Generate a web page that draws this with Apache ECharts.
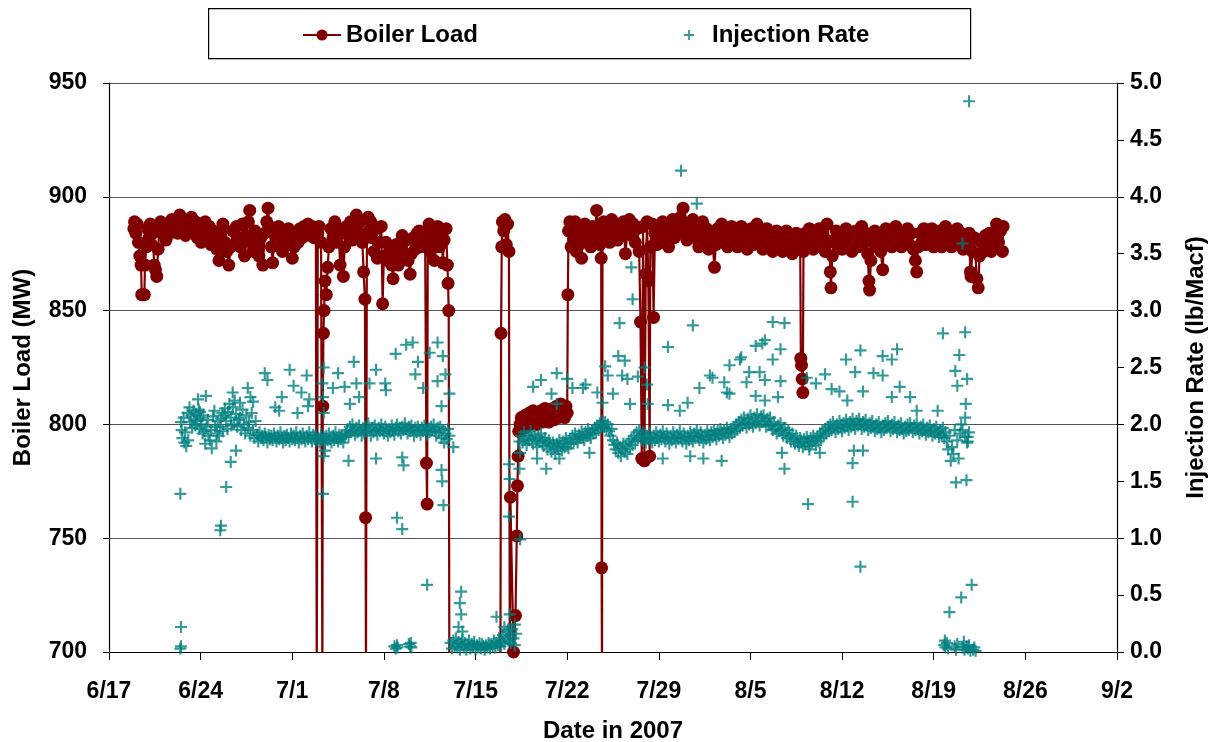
<!DOCTYPE html>
<html>
<head>
<meta charset="utf-8">
<script src="https://cdn.jsdelivr.net/npm/echarts@6/dist/echarts.min.js"></script>
<style>
html,body{margin:0;padding:0;background:#fff;}
#chart{width:1212px;height:742px;}
</style>
</head>
<body>
<div id="chart"></div>
<script>
// x values are days after 6/17/2007
const tickLabels = ['6/17','6/24','7/1','7/8','7/15','7/22','7/29','8/5','8/12','8/19','8/26','9/2'];
const seriesNames = ['Boiler Load', 'Injection Rate'];

// Boiler load (MW); values below 700 are unit trips that run off the bottom of the chart
const boilerLoad = [
[1.9,886],[1.95,889],[2.05,884],[2.15,888],[2.25,880],[2.35,874],[2.45,870],[2.5,857],[2.6,857],[2.7,857],[2.75,870],[2.85,878],[2.95,886],[3.05,882],[3.15,888],[3.25,879],[3.35,884],[3.45,870],[3.55,868],[3.65,865],[3.75,877],[3.85,886],[3.95,889],[4.1,884],[4.2,887],[4.35,881],[4.5,888],[4.65,884],[4.8,890],[4.95,886],[5.1,889],[5.25,884],[5.4,892],[5.55,887],[5.7,890],[5.85,883],[6.0,888],[6.15,885],[6.3,891],[6.45,884],[6.6,889],[6.75,882],[6.9,887],[7.05,880],[7.2,886],[7.35,889],[7.5,883],[7.65,887],[7.8,879],[7.95,885],[8.1,881],[8.25,877],[8.4,872],[8.55,884],[8.7,888],[8.85,880],[9.0,876],[9.15,870],[9.3,878],[9.45,885],[9.6,879],[9.75,887],[9.9,882],[10.05,878],[10.2,888],[10.35,874],[10.5,883],[10.65,889],[10.75,894],[10.85,880],[11.0,876],[11.15,885],[11.3,879],[11.45,874],[11.6,882],[11.75,870],[11.9,884],[12.05,889],[12.15,895],[12.25,887],[12.4,878],[12.5,871],[12.65,884],[12.8,880],[12.95,887],[13.1,882],[13.25,876],[13.4,884],[13.55,879],[13.7,886],[13.85,881],[14.0,873],[14.15,878],[14.3,884],[14.45,880],[14.6,886],[14.75,882],[14.9,887],[15.05,883],[15.2,888],[15.35,884],[15.5,887],[15.65,882],[15.8,886],
[15.87,690],[15.95,884],[16.05,887],[16.2,880],[16.3,690],[16.33,808],[16.38,840],[16.43,850],[16.5,863],[16.6,857],[16.7,869],[16.8,878],[16.95,886],
[17.1,882],[17.25,889],[17.4,880],[17.55,886],[17.65,870],[17.75,884],[17.9,865],[18.0,878],[18.15,887],[18.3,883],[18.45,889],[18.6,881],[18.75,886],[18.9,892],[19.05,884],[19.2,889],[19.35,880],[19.45,867],[19.55,855],[19.6,759],[19.63,690],[19.7,884],[19.8,891],[19.9,885],[20.0,889],
[20.1,882],[20.25,876],[20.4,886],[20.5,873],[20.65,880],[20.8,887],[20.9,853],[21.0,874],[21.15,880],[21.3,872],[21.45,878],[21.6,870],[21.7,864],[21.8,873],[21.95,879],[22.1,870],[22.25,876],[22.4,883],[22.55,874],[22.7,881],[22.85,872],[23.0,866],[23.1,875],[23.25,882],[23.4,877],[23.55,884],[23.7,885],[23.85,878],[24.0,884],[24.15,880],[24.25,783],[24.3,765],
[24.35,878],[24.45,888],[24.55,876],[24.7,884],[24.85,872],[25.0,880],[25.1,887],[25.25,878],[25.4,884],[25.5,871],[25.6,881],[25.75,886],[25.85,870],[25.9,862],[25.95,850],[26.0,690],
[29.9,690],[29.95,840],[30.0,878],[30.05,889],[30.15,885],[30.25,890],[30.35,879],[30.45,888],[30.55,876],[30.62,690],[30.66,768],[30.9,700],[31.05,716],[31.15,751],[31.2,773],[31.25,786],
[31.3,797],[31.4,800],[31.5,803],[31.6,798],[31.7,801],[31.8,804],[31.9,799],[32.0,802],[32.1,805],[32.2,800],[32.3,803],[32.4,806],[32.5,801],[32.6,804],[32.7,800],[32.8,805],[32.9,802],[33.0,806],[33.1,801],[33.2,804],[33.3,807],[33.4,802],[33.5,805],[33.6,801],[33.7,806],[33.8,803],[33.9,807],[34.0,802],[34.1,805],[34.2,808],[34.3,803],[34.4,806],[34.5,809],[34.6,804],[34.7,807],[34.8,803],[34.9,808],[35.0,805],[35.05,857],[35.1,885],
[35.2,889],[35.3,878],[35.4,886],[35.5,881],[35.6,889],[35.7,876],[35.8,884],[35.9,879],[36.0,887],[36.1,873],[36.2,882],[36.35,888],[36.5,880],[36.65,885],[36.8,878],[36.95,887],[37.1,882],[37.25,894],[37.4,884],[37.5,879],[37.6,873],[37.63,737],[37.66,690],[37.7,885],
[37.8,889],[37.95,882],[38.1,887],[38.25,880],[38.4,890],[38.55,884],[38.7,888],[38.85,881],[39.0,887],[39.15,883],[39.3,889],[39.45,875],[39.6,885],[39.75,890],[39.9,883],[40.05,888],[40.2,880],[40.35,886],[40.5,876],[40.6,845],[40.7,785],[40.8,887],[40.9,784],[41.0,866],[41.1,889],[41.2,863],[41.3,786],[41.35,878],[41.5,888],[41.6,847],[41.7,884],
[41.85,879],[42.0,886],[42.15,880],[42.3,889],[42.45,883],[42.6,887],[42.75,878],[42.9,885],[43.05,890],[43.2,882],[43.35,888],[43.5,884],[43.65,891],[43.85,895],[44.0,886],[44.15,881],[44.3,888],[44.45,884],[44.6,890],[44.75,882],[44.9,887],[45.05,878],[45.2,885],[45.35,889],[45.5,881],[45.65,886],[45.8,877],[45.95,884],[46.1,880],[46.25,869],[46.35,879],[46.5,886],[46.65,882],[46.8,888],[46.95,880],[47.1,885],[47.25,878],[47.4,884],[47.55,887],[47.7,880],[47.85,885],[48.0,878],[48.15,883],[48.3,887],[48.45,880],[48.6,884],[48.75,877],[48.9,883],[49.05,886],[49.2,879],[49.35,884],[49.5,888],[49.65,880],[49.8,885],[49.95,877],[50.1,883],[50.25,886],[50.4,879],[50.55,884],[50.7,876],[50.85,882],[51.0,885],[51.15,878],[51.3,883],[51.45,876],[51.6,881],[51.75,885],[51.9,877],[52.05,882],[52.2,875],[52.35,880],[52.5,884],[52.65,877],[52.8,880],[52.85,829],[52.9,826],[52.95,820],[53.0,814],[53.05,876],
[53.2,884],[53.35,879],[53.5,886],[53.65,881],[53.8,877],[53.95,884],[54.1,880],[54.25,886],[54.4,878],[54.55,883],[54.7,876],[54.85,888],[55.0,880],[55.1,867],[55.15,860],[55.25,874],[55.4,881],[55.55,885],[55.7,879],[55.85,884],[56.0,877],[56.15,882],[56.3,886],[56.45,879],[56.6,883],[56.75,876],[56.9,881],[57.05,885],[57.2,878],[57.35,883],[57.5,887],[57.65,880],[57.8,884],[57.95,875],[58.05,863],[58.1,859],[58.2,872],[58.35,880],[58.5,885],[58.65,878],[58.8,883],[58.95,876],[59.1,868],[59.2,880],[59.35,886],[59.5,879],[59.65,884],[59.8,878],[59.95,883],[60.1,887],[60.25,880],[60.4,885],[60.55,878],[60.7,884],[60.85,880],[61.0,886],[61.15,879],[61.3,884],[61.45,877],[61.6,872],[61.7,867],[61.8,878],[61.95,884],[62.1,880],[62.25,886],[62.4,879],[62.55,884],[62.7,880],[62.85,886],[63.0,878],[63.15,884],[63.3,880],[63.45,885],[63.6,878],[63.75,883],[63.9,887],[64.05,880],[64.2,885],[64.35,878],[64.5,883],[64.65,879],[64.8,886],[64.95,880],[65.1,884],[65.25,877],[65.4,882],[65.55,878],[65.7,884],[65.8,867],[65.85,865],[65.95,876],[66.1,882],[66.3,864],[66.4,860],[66.5,874],[66.65,880],[66.8,876],[66.95,883],[67.1,878],[67.25,884],[67.4,876],[67.55,882],[67.7,878],[67.8,888],[67.95,880],[68.1,885],[68.25,876],[68.3,887]
];

// Injection rate (lb/Macf)
const injectionRate = [
[5.45,0.03],[5.5,0.05],[5.5,0.22],[5.45,1.39],
[5.5,2.02],[5.55,1.95],[5.6,1.88],[5.7,2.06],[5.75,1.84],[5.8,1.93],[5.9,1.81],[6.0,2.1],[6.05,1.86],[6.15,2.15],[6.2,2.02],[6.3,2.08],[6.35,1.97],[6.45,2.12],[6.5,2.04],[6.6,1.99],[6.65,2.09],[6.75,2.03],[6.85,2.13],[6.9,1.96],[7.0,2.06],[7.05,2.0],[7.15,1.92],[7.2,2.08],[7.3,1.94],[7.35,1.83],[7.45,1.98],[7.55,2.04],[7.6,1.9],[7.7,1.86],[7.8,1.95],[7.85,1.79],[7.95,2.07],[8.05,2.12],[8.1,1.98],[8.2,1.85],[8.25,1.92],[8.3,2.03],[8.4,1.9],[8.5,1.98],[8.55,2.05],[8.65,2.1],[8.7,1.94],[8.8,2.08],[8.85,2.14],[8.95,2.03],[9.05,1.96],[9.1,2.11],[9.2,2.18],[9.3,2.06],[9.35,1.99],[9.45,2.15],[9.55,2.0],[9.6,2.21],[9.7,2.09],[9.8,1.98],[9.9,2.04],
[8.55,1.11],[8.5,1.07],[8.95,1.45],[9.3,1.67],[9.7,1.77],[10.6,2.32],[7.4,2.25],[6.8,2.22],[9.45,2.28],[10.8,2.24],[10.0,2.19],[6.95,2.11],
[10.0,2.06],[10.1,1.95],[10.2,2.13],[10.3,2.0],[10.4,1.92],[10.5,2.08],[10.6,1.97],[10.7,2.02],[10.8,1.9],[10.9,2.1],[11.0,1.95],[11.1,1.88],[11.2,2.03],[11.3,1.91],[11.4,1.85],[11.5,1.93],[11.6,1.88],[11.7,1.9],[11.8,1.86],[11.9,1.92],[12.0,1.89],[12.1,1.84],[12.2,1.91],[12.3,1.87],[12.4,1.9],[12.5,1.86],[12.6,1.92],[12.7,1.88],[12.8,1.85],[12.9,1.9],[13.0,1.87],[13.1,1.93],[13.2,1.88],[13.3,1.84],[13.4,1.9],[13.5,1.86],[13.6,1.91],[13.7,1.88],[13.8,1.85],[13.9,1.92],[14.0,1.87],[14.1,1.9],[14.2,1.86],[14.3,1.93],[14.4,1.88],[14.5,1.84],[14.6,1.9],[14.7,1.87],[14.8,1.92],[14.9,1.88],[15.0,1.85],[15.1,1.9],[15.2,1.87],[15.3,1.93],[15.4,1.88],[15.5,1.85],[15.6,1.91],[15.7,1.87],[15.8,1.9],[15.9,1.86],
[12.1,2.39],[13.2,2.24],[14.1,2.34],[14.7,2.28],[15.1,2.43],[14.4,2.1],[15.2,2.16],[13.0,2.12],[11.0,2.2],[12.7,2.15],[15.3,2.22],[11.9,2.45],[13.8,2.48],
[16.0,1.88],[16.1,1.84],[16.2,1.91],[16.3,1.86],[16.4,1.89],[16.5,1.83],[16.6,1.9],[16.7,1.86],[16.8,1.92],[16.9,1.87],[17.0,1.84],[17.1,1.9],[17.2,1.86],[17.3,1.93],[17.4,1.88],[17.5,1.85],[17.6,1.91],[17.7,1.87],[17.8,1.9],[17.9,1.84],[18.0,1.89],[18.1,1.92],[18.2,1.95],[18.3,1.9],[18.4,1.98],[18.5,1.93],[18.6,2.0],[18.7,1.95],[18.8,1.91],[18.9,1.97],[19.0,1.93],[19.1,1.99],[19.2,1.95],[19.3,1.9],[19.4,1.96],[19.5,1.92],[19.6,1.98],[19.7,1.94],[19.8,2.01],[19.9,1.95],[20.0,1.9],[20.1,1.97],[20.2,1.93],[20.3,1.99],[20.4,1.95],[20.5,1.91],[20.6,1.97],[20.7,1.94],[20.8,2.0],[20.9,1.96],[21.0,1.92],[21.1,1.98],[21.2,1.94],[21.3,1.9],[21.4,1.96],[21.5,1.93],[21.6,1.99],[21.7,1.95],[21.8,1.91],[21.9,1.97],[22.0,2.0],[22.1,1.94],[22.2,1.97],[22.3,1.92],[22.4,1.98],[22.5,1.95],[22.6,2.01],[22.7,1.96],[22.8,1.92],[22.9,1.98],[23.0,1.94],[23.1,1.99],[23.2,1.95],[23.3,1.9],[23.4,1.97],[23.5,1.93],[23.6,1.98],[23.7,1.95],[23.8,1.91],[23.9,1.97],[24.0,1.94],[24.1,1.99],[24.2,1.95],[24.3,1.91],[24.4,1.97],[24.5,1.93],[24.6,1.98],[24.7,1.95],[24.8,2.0],[24.9,1.94],[25.0,1.9],[25.1,1.97],[25.2,1.93],[25.3,1.98],[25.4,1.88],[25.5,1.95],[25.6,1.84],[25.7,1.92],[25.8,1.87],[25.9,1.96],[26.0,1.9],
[16.3,2.36],[17.1,2.32],[18.0,2.33],[18.9,2.36],[19.9,2.36],[21.1,2.36],[21.15,2.3],[23.4,2.44],[24.0,2.32],[25.1,2.38],[25.7,2.44],[26.0,2.27],[25.4,2.16],[16.35,2.24],[16.4,2.1],[18.4,2.18],[19.1,2.24],[16.4,2.5],[17.5,2.45],[18.7,2.55],[20.4,2.48],[21.9,2.62],[22.7,2.7],[23.2,2.72],[23.6,2.55],[24.5,2.63],[25.1,2.72],[25.5,2.6],
[16.35,1.39],[16.4,1.72],[16.5,1.77],[18.3,1.68],[20.4,1.7],[22.4,1.71],[22.5,1.64],[22.0,1.18],[22.4,1.08],[25.4,1.6],[25.45,1.5],[25.55,1.29],[26.3,1.8],[24.3,0.59],
[21.8,0.05],[21.9,0.03],[22.0,0.06],[22.05,0.04],[22.9,0.07],[23.0,0.05],[23.1,0.04],[23.05,0.08],
[26.1,0.08],[26.2,0.03],[26.3,0.1],[26.4,0.05],[26.5,0.12],[26.6,0.04],[26.7,0.09],[26.8,0.02],[26.9,0.07],[27.0,0.11],[27.1,0.04],[27.2,0.08],[27.3,0.02],[27.4,0.06],[27.5,0.1],[27.6,0.03],[27.7,0.07],[27.8,0.05],[27.9,0.09],[28.0,0.02],[28.1,0.06],[28.2,0.04],[28.3,0.08],[28.4,0.03],[28.5,0.07],[28.6,0.05],[28.7,0.02],[28.8,0.06],[28.9,0.04],[29.0,0.08],[29.1,0.03],[29.2,0.07],[29.3,0.05],[29.4,0.1],[29.5,0.04],[29.6,0.08],[29.7,0.06],[29.8,0.12],[29.9,0.05],[30.0,0.09],[30.1,0.15],[30.2,0.07],[30.3,0.12],[30.4,0.18],[30.5,0.1],[30.6,0.14],[30.7,0.08],[30.8,0.2],[30.9,0.12],[31.0,0.06],[31.1,0.16],
[26.9,0.53],[26.8,0.43],[26.9,0.33],[26.7,0.22],[27.0,0.18],[29.6,0.31],[30.6,0.33],[30.2,0.22],[30.5,0.2],[31.0,0.24],
[30.55,1.19],[31.4,0.99],[30.6,1.52],[30.55,1.65],[31.35,1.61],[31.4,1.75],[31.35,1.85],
[31.5,1.9],[31.6,1.84],[31.7,1.93],[31.8,1.87],[31.9,1.82],[32.0,1.9],[32.1,1.86],[32.2,1.94],[32.3,1.88],[32.4,1.83],[32.5,1.91],[32.6,1.86],[32.7,1.8],[32.8,1.89],[32.9,1.85],[33.0,1.92],[33.1,1.86],[33.2,1.81],[33.3,1.88],[33.4,1.84],[33.5,1.78],[33.6,1.86],[33.7,1.82],[33.8,1.76],[33.9,1.84],[34.0,1.8],[34.1,1.74],[34.2,1.83],[34.3,1.79],[34.4,1.86],[34.5,1.81],[34.6,1.77],[34.7,1.85],[34.8,1.8],[34.9,1.88],[35.0,1.83],[35.1,1.79],[35.2,1.87],[35.3,1.83],[35.4,1.9],[35.5,1.85],[35.6,1.92],[35.7,1.87],[35.8,1.84],[35.9,1.91],[36.0,1.88],[36.1,1.94],[36.2,1.89],[36.3,1.86],[36.4,1.93],[36.5,1.9],[36.6,1.96],[36.7,1.91],[36.8,1.88],[36.9,1.95],[37.0,1.92],[37.1,1.97],[37.2,1.93],[37.3,1.99],[37.4,1.95],[37.5,2.01],[37.6,1.97],[37.7,2.03],[37.8,1.98],[37.9,2.02],[38.0,1.96],[38.1,2.0],[38.2,1.94],[38.3,1.9],[38.4,1.96],[38.5,1.86],[38.6,1.82],[38.7,1.78],[38.8,1.84],[38.9,1.75],[39.0,1.8],[39.1,1.72],[39.2,1.78],[39.3,1.83],[39.4,1.76],[39.5,1.81],[39.6,1.74],[39.7,1.85],[39.8,1.79],[39.9,1.87],[40.0,1.82],[40.1,1.9],[40.2,1.85],[40.3,1.93],[40.4,1.88],[40.5,1.95],[40.6,1.9],[40.7,1.86],[40.8,1.93],[40.9,1.88],[41.0,1.84],[41.1,1.9],
[33.8,2.27],[34.2,2.18],[35.4,2.32],[36.2,2.32],[37.3,2.28],[37.7,2.19],[38.1,2.43],[38.5,2.27],[39.2,2.43],[39.6,2.4],[40.4,2.42],[39.8,2.18],[41.1,2.35],[41.15,2.18],[42.7,2.17],[44.2,2.19],[43.6,2.12],[45.1,2.32],[46.1,2.41],[47.2,2.28],
[33.4,1.61],[32.7,1.7],[36.7,1.75],[34.4,1.7],[42.3,1.7],[44.4,1.72],[45.4,1.7],[46.8,1.68],
[38.9,2.6],[39.0,2.89],[40.0,3.1],[39.9,3.38],[40.9,2.5],[39.4,2.56],[37.9,2.51],[36.4,2.35],[35.0,2.4],[34.2,2.45],[33.0,2.39],[32.4,2.33],
[43.7,4.23],[44.9,3.94],[44.6,2.87],[42.7,2.68],[47.0,2.37],[48.3,2.59],[45.9,2.43],
[41.2,1.87],[41.3,1.92],[41.4,1.88],[41.5,1.84],[41.6,1.9],[41.7,1.86],[41.8,1.93],[41.9,1.88],[42.0,1.85],[42.1,1.91],[42.2,1.87],[42.3,1.94],[42.4,1.89],[42.5,1.85],[42.6,1.92],[42.7,1.88],[42.8,1.83],[42.9,1.9],[43.0,1.86],[43.1,1.93],[43.2,1.88],[43.3,1.84],[43.4,1.91],[43.5,1.87],[43.6,1.94],[43.7,1.89],[43.8,1.85],[43.9,1.92],[44.0,1.88],[44.1,1.83],[44.2,1.9],[44.3,1.86],[44.4,1.93],[44.5,1.89],[44.6,1.85],[44.7,1.92],[44.8,1.88],[44.9,1.95],[45.0,1.9],[45.1,1.86],[45.2,1.93],[45.3,1.89],[45.4,1.84],[45.5,1.91],[45.6,1.87],[45.7,1.94],[45.8,1.9],[45.9,1.86],[46.0,1.93],[46.1,1.89],[46.2,1.95],[46.3,1.91],[46.4,1.87],[46.5,1.94],[46.6,1.9],[46.7,1.96],[46.8,1.92],[46.9,1.88],[47.0,1.95],[47.1,1.91],[47.2,1.97],[47.3,1.93],[47.4,1.89],[47.5,1.96],[47.6,1.92],[47.7,1.98],[47.8,1.94],[47.9,2.0],[48.0,1.95],[48.1,2.02],[48.2,1.97],[48.3,2.04],[48.4,1.99],[48.5,2.06],[48.6,2.01],[48.7,1.97],[48.8,2.05],[48.9,2.0],[49.0,2.08],[49.1,2.02],[49.2,1.98],[49.3,2.06],[49.4,2.01],[49.5,2.09],[49.6,2.03],[49.7,1.99],[49.8,2.07],[49.9,2.02],[50.0,2.08],[50.1,2.03],[50.2,1.98],[50.3,2.05],[50.4,2.0],[50.5,2.06],[50.6,1.99],[50.7,1.95],[50.8,2.02],[50.9,1.96],[51.0,1.92],[51.1,1.99],[51.2,1.94],[51.3,2.01],[51.4,1.95],[51.5,1.9],[51.6,1.97],[51.7,1.92],[51.8,1.88],[51.9,1.95],[52.0,1.9],[52.1,1.85],[52.2,1.92],[52.3,1.87],[52.4,1.83],[52.5,1.9],[52.6,1.85],[52.7,1.81],[52.8,1.88],[52.9,1.84],[53.0,1.8],[53.1,1.87],[53.2,1.83],[53.3,1.89],[53.4,1.85],[53.5,1.81],[53.6,1.88],[53.7,1.84],[53.8,1.9],[53.9,1.86],[54.0,1.82],[54.1,1.89],[54.2,1.85],[54.3,1.92],[54.4,1.88],[54.5,1.94],[54.6,1.9],[54.7,1.96],[54.8,1.92],[54.9,1.98],[55.0,1.94],[55.1,2.0],[55.2,1.95],[55.3,2.02],[55.4,1.97],[55.5,1.93],[55.6,2.0],[55.7,1.96],[55.8,2.03],[55.9,1.98],[56.0,1.94],[56.1,2.01],[56.2,1.97],[56.3,2.04],[56.4,1.99],[56.5,1.95],[56.6,2.02],[56.7,1.98],[56.8,2.05],[56.9,2.0],[57.0,1.96],[57.1,2.03],[57.2,1.99],[57.3,2.05],[57.4,2.0],[57.5,1.96],[57.6,2.02],[57.7,1.98],[57.8,2.04],[57.9,1.99],[58.0,1.95],[58.1,2.01],[58.2,1.97],[58.3,2.03],[58.4,1.98],[58.5,1.94],[58.6,2.0],[58.7,1.96],[58.8,2.02],[58.9,1.97],[59.0,1.93],[59.1,1.99],[59.2,1.95],[59.3,2.01],[59.4,1.97],[59.5,2.03],[59.6,1.98],[59.7,1.94],[59.8,2.0],[59.9,1.96],[60.0,2.02],[60.1,1.97],[60.2,1.93],[60.3,1.99],[60.4,1.95],[60.5,2.01],[60.6,1.96],[60.7,1.92],[60.8,1.98],[60.9,1.94],[61.0,2.0],[61.1,1.95],[61.2,2.01],[61.3,1.97],[61.4,1.93],[61.5,1.99],[61.6,1.95],[61.7,2.01],[61.8,1.96],[61.9,1.92],[62.0,1.98],[62.1,1.94],[62.2,2.0],[62.3,1.95],[62.4,1.91],[62.5,1.97],[62.6,1.93],[62.7,1.99],[62.8,1.94],[62.9,1.9],[63.0,1.96],[63.1,1.92],[63.2,1.98],[63.3,1.93],[63.4,1.89],[63.5,1.95],[63.6,1.91],[63.7,1.97],[63.8,1.88],[63.9,1.93],[64.0,1.85],[64.1,1.78],[64.2,1.9],[64.3,1.68],[64.4,1.8],[64.5,1.74],[64.6,1.95],[64.7,1.49],[64.8,1.86],[64.9,1.7],[65.0,1.92],[65.1,2.0],[65.2,1.95],[65.4,1.89],[65.5,1.51],[65.6,1.85],[65.7,1.93],
[50.7,2.9],[51.6,2.89],[49.9,2.71],[50.1,2.74],[51.3,2.66],[50.7,2.57],[48.2,2.57],[47.4,2.52],[48.9,2.46],[49.7,2.46],[48.7,2.37],[50.1,2.39],[51.3,2.38],[51.1,2.24],[49.4,2.25],[50.1,2.21],[47.4,2.27],[53.3,2.41],[54.0,2.36],[54.7,2.44],[55.2,2.31],[55.8,2.29],[56.3,2.57],[57.4,2.65],[57.0,2.46],[56.4,2.21],[57.6,2.29],[58.4,2.45],[59.1,2.6],[59.1,2.43],[59.8,2.57],[60.2,2.66],[60.4,2.33],[59.8,2.24],[61.2,2.24],[61.7,2.12],[63.3,2.12],[63.7,2.8],[65.4,2.81],[64.95,2.61],[64.65,2.47],[64.8,2.34],[65.55,2.4],[65.45,2.18],[65.4,2.06],[65.6,1.89],[65.55,1.84],[49.4,2.69],
[51.6,1.61],[51.4,1.75],[53.4,1.3],[56.8,1.32],[56.8,1.66],[56.9,1.77],[57.6,1.77],[54.3,1.75],[53.5,1.78],[57.4,0.75],
[63.8,0.06],[63.9,0.04],[64.0,0.08],[64.1,0.03],[63.85,0.1],[64.6,0.05],[64.7,0.02],[64.8,0.07],[65.2,0.04],[65.3,0.09],[65.35,0.02],[65.5,0.05],[65.6,0.03],[65.7,0.06],[65.8,0.01],[66.0,0.02],[66.1,0.04],[66.2,0.01],
[64.2,0.35],[65.1,0.48],[65.9,0.59],[65.7,4.84],[65.2,3.59]
];

const plusPath = 'path://M4.1,0H5.9V4.1H10V5.9H5.9V10H4.1V5.9H0V4.1H4.1Z';
const FONT = 'Liberation Sans, Arial, sans-serif';

const chart = echarts.init(document.getElementById('chart'), null, {renderer: 'canvas'});
chart.setOption({
  animation: false,
  backgroundColor: '#ffffff',
  textStyle: {fontFamily: FONT},
  graphic: [{
    type: 'rect', left: 208, top: 8, z: -1,
    shape: {width: 762, height: 50},
    style: {fill: '#ffffff', stroke: '#000000', lineWidth: 1.2}
  }],
  legend: [{
    data: [seriesNames[0]],
    left: 297, top: 18,
    itemWidth: 38, itemHeight: 14,
    textStyle: {fontSize: 24, fontWeight: 'bold', color: '#000', fontFamily: FONT}
  }, {
    data: [seriesNames[1]],
    left: 679, top: 18,
    itemWidth: 16, itemHeight: 10,
    textStyle: {fontSize: 24, fontWeight: 'bold', color: '#000', fontFamily: FONT, padding: [0,0,0,10]}
  }],
  grid: {left: 109, right: 95, top: 83, bottom: 90, containLabel: false, outerBoundsMode: 'none'},
  xAxis: {
    type: 'value', min: 0, max: 77, interval: 7,
    name: 'Date in 2007', nameLocation: 'middle', nameGap: 67,
    nameTextStyle: {fontSize: 24, fontWeight: 'bold', color: '#000', fontFamily: FONT},
    axisLine: {lineStyle: {color: '#000', width: 1.2}},
    axisTick: {show: true, inside: false, length: 8, lineStyle: {color: '#000'}},
    axisLabel: {
      margin: 28, fontSize: 23, fontWeight: 'bold', color: '#000', fontFamily: FONT,
      formatter: function (v) { return tickLabels[Math.round(v / 7)]; }
    },
    splitLine: {show: false}
  },
  yAxis: [{
    type: 'value', min: 700, max: 950, interval: 50, position: 'left',
    name: 'Boiler Load (MW)', nameLocation: 'middle', nameGap: 74, nameRotate: 90,
    nameTextStyle: {fontSize: 24, fontWeight: 'bold', color: '#000', fontFamily: FONT},
    axisLine: {show: true, lineStyle: {color: '#000', width: 1.2}},
    axisTick: {show: true, length: 6, lineStyle: {color: '#000'}},
    axisLabel: {margin: 22, fontSize: 23, fontWeight: 'bold', color: '#000', fontFamily: FONT},
    splitLine: {show: true, lineStyle: {color: '#555', width: 1.2}}
  }, {
    type: 'value', min: 0, max: 5, interval: 0.5, position: 'right',
    name: 'Injection Rate (lb/Macf)', nameLocation: 'middle', nameGap: 67, nameRotate: 90,
    nameTextStyle: {fontSize: 24, fontWeight: 'bold', color: '#000', fontFamily: FONT},
    axisLine: {show: true, lineStyle: {color: '#000', width: 1.2}},
    axisTick: {show: true, length: 7, lineStyle: {color: '#000'}},
    axisLabel: {margin: 13, fontSize: 23, fontWeight: 'bold', color: '#000', fontFamily: FONT,
      formatter: function (v) { return v.toFixed(1); }},
    splitLine: {show: false}
  }],
  series: [{
    name: seriesNames[0],
    type: 'line',
    yAxisIndex: 0,
    data: boilerLoad,
    clip: true,
    symbol: 'circle', symbolSize: 13, showAllSymbol: true,
    lineStyle: {color: '#800000', width: 2.2},
    itemStyle: {color: '#800000'},
    z: 2
  }, {
    name: seriesNames[1],
    type: 'scatter',
    yAxisIndex: 1,
    data: injectionRate,
    clip: true,
    symbol: plusPath, symbolSize: 12,
    itemStyle: {color: '#008080'},
    z: 3
  }]
});
</script>
</body>
</html>
